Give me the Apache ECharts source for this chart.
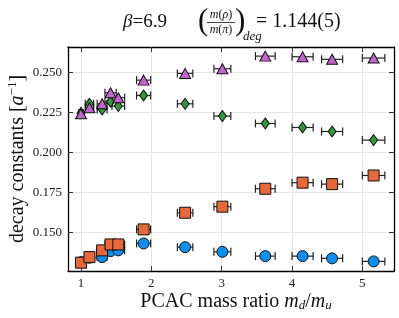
<!DOCTYPE html>
<html><head><meta charset="utf-8">
<script src="https://cdn.jsdelivr.net/npm/echarts@6/dist/echarts.min.js"></script>
<style>html,body{margin:0;padding:0;background:#fff}#c{width:399px;height:318px}</style>
</head><body><div id="c"></div>
<script>
const xVals  = [1.0, 1.12, 1.3, 1.42, 1.53, 1.89, 2.48, 3.01, 3.62, 4.15, 4.57, 5.16];
const xErr   = [0.03, 0.06, 0.07, 0.08, 0.09, 0.10, 0.11, 0.12, 0.14, 0.15, 0.15, 0.16];
const blueVals   = [0.1312, 0.1340, 0.1344, 0.1381, 0.1386, 0.1429, 0.1406, 0.1377, 0.1350, 0.1350, 0.1336, 0.1317];
const orangeVals = [0.1309, 0.1344, 0.1386, 0.1423, 0.1423, 0.1517, 0.1621, 0.1659, 0.1771, 0.1809, 0.1800, 0.1854];
const greenVals  = [0.2245, 0.2302, 0.2267, 0.2315, 0.2288, 0.2354, 0.2302, 0.2225, 0.2179, 0.2154, 0.2129, 0.2075];
const purpleVals = [0.2240, 0.2277, 0.2302, 0.2371, 0.2340, 0.2450, 0.2492, 0.2521, 0.2600, 0.2596, 0.2580, 0.2588];
const xTicks = [1, 2, 3, 4, 5];
const yTicks = [0.150, 0.175, 0.200, 0.225, 0.250];

const SERIF = '"Liberation Serif","DejaVu Serif",serif';
const chart = echarts.init(document.getElementById('c'), null, {renderer: 'canvas'});

function pts(vals) { return vals.map((v, i) => [xVals[i], v, xErr[i]]); }
function errSeries(vals) {
  return {
    type: 'custom', z: 1, silent: true,
    data: pts(vals),
    renderItem: function (params, api) {
      const x = api.value(0), y = api.value(1), e = api.value(2);
      const a = api.coord([x - e, y]), b = api.coord([x + e, y]);
      const cap = 4;
      const st = {stroke: '#222', lineWidth: 1.2};
      return {type: 'group', children: [
        {type: 'line', shape: {x1: a[0], y1: a[1], x2: b[0], y2: b[1]}, style: st},
        {type: 'line', shape: {x1: a[0], y1: a[1] - cap, x2: a[0], y2: a[1] + cap}, style: st},
        {type: 'line', shape: {x1: b[0], y1: b[1] - cap, x2: b[0], y2: b[1] + cap}, style: st}
      ]};
    }
  };
}
function scat(vals, symbol, size, color) {
  return {type: 'scatter', z: 3, symbol: symbol, symbolSize: size, data: pts(vals),
    itemStyle: {color: color, borderColor: '#111', borderWidth: 1, opacity: 1}};
}
const axCommon = {
  axisLine: {show: true, onZero: false, lineStyle: {color: '#000', width: 1.3}},
  axisTick: {inside: true, length: 5, lineStyle: {color: '#333', width: 1}},
  splitLine: {show: false}
};
const xMin = 0.815, xMax = 5.45, yMin = 0.1257, yMax = 0.2657;

chart.setOption({
  animation: false,
  grid: {left: 68, right: 5, top: 47, bottom: 47, containLabel: false},
  xAxis: [
    Object.assign({}, axCommon, {type: 'value', position: 'bottom', min: xMin, max: xMax,
      axisTick: Object.assign({}, axCommon.axisTick, {customValues: xTicks}),
      axisLabel: {customValues: xTicks, fontFamily: SERIF, fontSize: 13, color: '#222', margin: 6},
      splitLine: {show: true, lineStyle: {color: '#e4e4e4', width: 1}}}),
    Object.assign({}, axCommon, {type: 'value', position: 'top', min: xMin, max: xMax,
      axisTick: Object.assign({}, axCommon.axisTick, {customValues: xTicks}),
      axisLabel: {show: false}})
  ],
  yAxis: [
    Object.assign({}, axCommon, {type: 'value', position: 'left', min: yMin, max: yMax,
      axisTick: Object.assign({}, axCommon.axisTick, {customValues: yTicks}),
      axisLabel: {customValues: yTicks, fontFamily: SERIF, fontSize: 13, color: '#222', margin: 6,
        formatter: v => v.toFixed(3)},
      splitLine: {show: true, lineStyle: {color: '#e4e4e4', width: 1}}}),
    Object.assign({}, axCommon, {type: 'value', position: 'right', min: yMin, max: yMax,
      axisTick: Object.assign({}, axCommon.axisTick, {customValues: yTicks}),
      axisLabel: {show: false}})
  ],
  series: [
    errSeries(blueVals), errSeries(orangeVals), errSeries(greenVals), errSeries(purpleVals),
    scat(blueVals, 'circle', 11, '#0b8ff0'),
    scat(orangeVals, 'rect', 11, '#e8683a'),
    scat(greenVals, 'diamond', [8, 11], '#2e9a3c'),
    scat(purpleVals, 'triangle', [11, 10], '#c462d2')
  ],
  graphic: [
    {type: 'text', x: 123, y: 22, style: {
      text: '{i|β}{n|=6.9}', textVerticalAlign: 'middle', rich: {
        i: {fontFamily: SERIF, fontStyle: 'italic', fontSize: 19, fill: '#111'},
        n: {fontFamily: SERIF, fontSize: 19, fill: '#111'}}}},
    {type: 'text', x: 198, y: 22, style: {text: '(', fontFamily: SERIF, fontSize: 31, fill: '#111', textVerticalAlign: 'middle'}},
    {type: 'text', x: 221, y: 15, style: {text: '{i|m}{n|(}{i|ρ}{n|)}', textAlign: 'center', textVerticalAlign: 'middle', rich: {
        i: {fontFamily: SERIF, fontStyle: 'italic', fontSize: 12, fill: '#111'},
        n: {fontFamily: SERIF, fontSize: 12, fill: '#111'}}}},
    {type: 'line', shape: {x1: 207, y1: 22.5, x2: 235, y2: 22.5}, style: {stroke: '#111', lineWidth: 0.8}},
    {type: 'text', x: 221, y: 30, style: {text: '{i|m}{n|(}{i|π}{n|)}', textAlign: 'center', textVerticalAlign: 'middle', rich: {
        i: {fontFamily: SERIF, fontStyle: 'italic', fontSize: 12, fill: '#111'},
        n: {fontFamily: SERIF, fontSize: 12, fill: '#111'}}}},
    {type: 'text', x: 235, y: 22, style: {text: ')', fontFamily: SERIF, fontSize: 31, fill: '#111', textVerticalAlign: 'middle'}},
    {type: 'text', x: 243, y: 37, style: {text: 'deg', fontFamily: SERIF, fontStyle: 'italic', fontSize: 13, fill: '#111', textVerticalAlign: 'middle'}},
    {type: 'text', x: 256, y: 22, style: {text: '= 1.144(5)', fontFamily: SERIF, fontSize: 20, fill: '#111', textVerticalAlign: 'middle'}},
    {type: 'text', x: 236, y: 302, style: {
      text: '{n|PCAC mass ratio }{i|m}{s|d}{n|/}{i|m}{s|u}', textAlign: 'center', textVerticalAlign: 'middle',
      rich: {
        n: {fontFamily: SERIF, fontSize: 20, fill: '#111'},
        i: {fontFamily: SERIF, fontStyle: 'italic', fontSize: 20, fill: '#111'},
        s: {fontFamily: SERIF, fontStyle: 'italic', fontSize: 13, fill: '#111', padding: [8, 0, 0, 0]}}}},
    {type: 'text', x: 18, y: 159, rotation: Math.PI / 2, style: {
      text: '{n|decay constants [}{i|a}{s|−1}{n|]}', textAlign: 'center', textVerticalAlign: 'middle',
      rich: {
        n: {fontFamily: SERIF, fontSize: 20, fill: '#111'},
        i: {fontFamily: SERIF, fontStyle: 'italic', fontSize: 20, fill: '#111'},
        s: {fontFamily: SERIF, fontSize: 13, fill: '#111', padding: [0, 0, 10, 0]}}}}
  ]
});
</script></body></html>
